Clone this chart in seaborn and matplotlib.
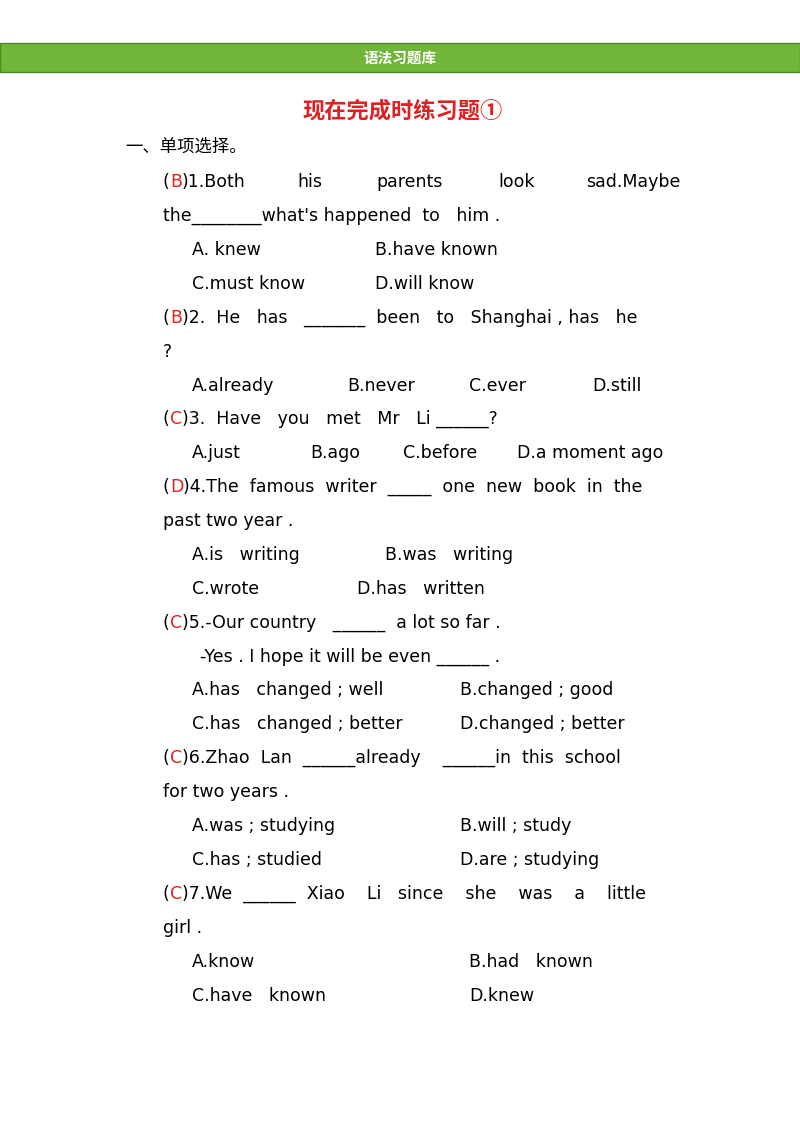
import matplotlib
matplotlib.use("Agg")
import matplotlib.pyplot as plt
import seaborn as sns

sns.set_theme(style="white")
plt.rcParams['font.family'] = ['Noto Sans CJK SC', 'DejaVu Sans']
EN = ['DejaVu Sans', 'Noto Sans CJK SC']

header = "语法习题库"
title = "现在完成时练习题①"
section = "一、单项选择。"

# each line: list of (x, text); answer letters (between |) drawn in red
lines = [
    (182, [(163, "(|B|)1.Both"), (297, "his"), (376, "parents"), (498, "look"), (586, "sad.Maybe")]),
    (216, [(163, "the________what's happened  to   him ."),]),
    (250, [(192, "A. knew"), (375, "B.have known")]),
    (284, [(192, "C.must know"), (375, "D.will know")]),
    (318, [(163, "(|B|)2.  He   has   _______  been   to   Shanghai , has   he")]),
    (352, [(163, "?")]),
    (386, [(192, "A.already"), (347, "B.never"), (469, "C.ever"), (592, "D.still")]),
    (419, [(163, "(|C|)3.  Have   you   met   Mr   Li ______?")]),
    (453, [(192, "A.just"), (310, "B.ago"), (403, "C.before"), (517, "D.a moment ago")]),
    (487, [(163, "(|D|)4.The  famous  writer  _____  one  new  book  in  the")]),
    (521, [(163, "past two year .")]),
    (555, [(192, "A.is   writing"), (385, "B.was   writing")]),
    (589, [(192, "C.wrote"), (357, "D.has   written")]),
    (623, [(163, "(|C|)5.-Our country   ______  a lot so far .")]),
    (657, [(200, "-Yes . I hope it will be even ______ .")]),
    (690, [(192, "A.has   changed ; well"), (460, "B.changed ; good")]),
    (724, [(192, "C.has   changed ; better"), (460, "D.changed ; better")]),
    (758, [(163, "(|C|)6.Zhao  Lan  ______already    ______in  this  school")]),
    (792, [(163, "for two years .")]),
    (826, [(192, "A.was ; studying"), (460, "B.will ; study")]),
    (860, [(192, "C.has ; studied"), (460, "D.are ; studying")]),
    (894, [(163, "(|C|)7.We  ______  Xiao    Li   since    she    was    a    little")]),
    (928, [(163, "girl .")]),
    (962, [(192, "A.know"), (469, "B.had   known")]),
    (996, [(192, "C.have   known"), (469, "D.knew")]),
]

fig = plt.figure(figsize=(8, 11.32), dpi=100)
ax = fig.add_axes([0, 0, 1, 1])
ax.set_xlim(0, 800)
ax.set_ylim(1132, 0)
ax.axis("off")

ax.add_patch(plt.Rectangle((0, 43), 800, 29, color="#71b53a", ec="#4e8a2a", lw=1))
ax.text(400, 58, header, color="white", fontsize=10.5, weight="bold", ha="center", va="center")
ax.text(403, 111, title, color="#e02020", fontsize=16, weight="bold", ha="center", va="center")
ax.text(125, 147, section, color="black", fontsize=12.5, va="center")

fs = 12.5
renderer = fig.canvas.get_renderer()
for y, segs in lines:
    for x, t in segs:
        parts = t.split("|")
        cx = x
        for i, p in enumerate(parts):
            if not p:
                continue
            col = "#e02020" if i == 1 else "black"
            txt = ax.text(cx, y, p, fontsize=fs, va="center", color=col, family=EN)
            bb = txt.get_window_extent(renderer)
            cx += bb.width  # axes units == pixels

fig.savefig("out.png", dpi=100)
